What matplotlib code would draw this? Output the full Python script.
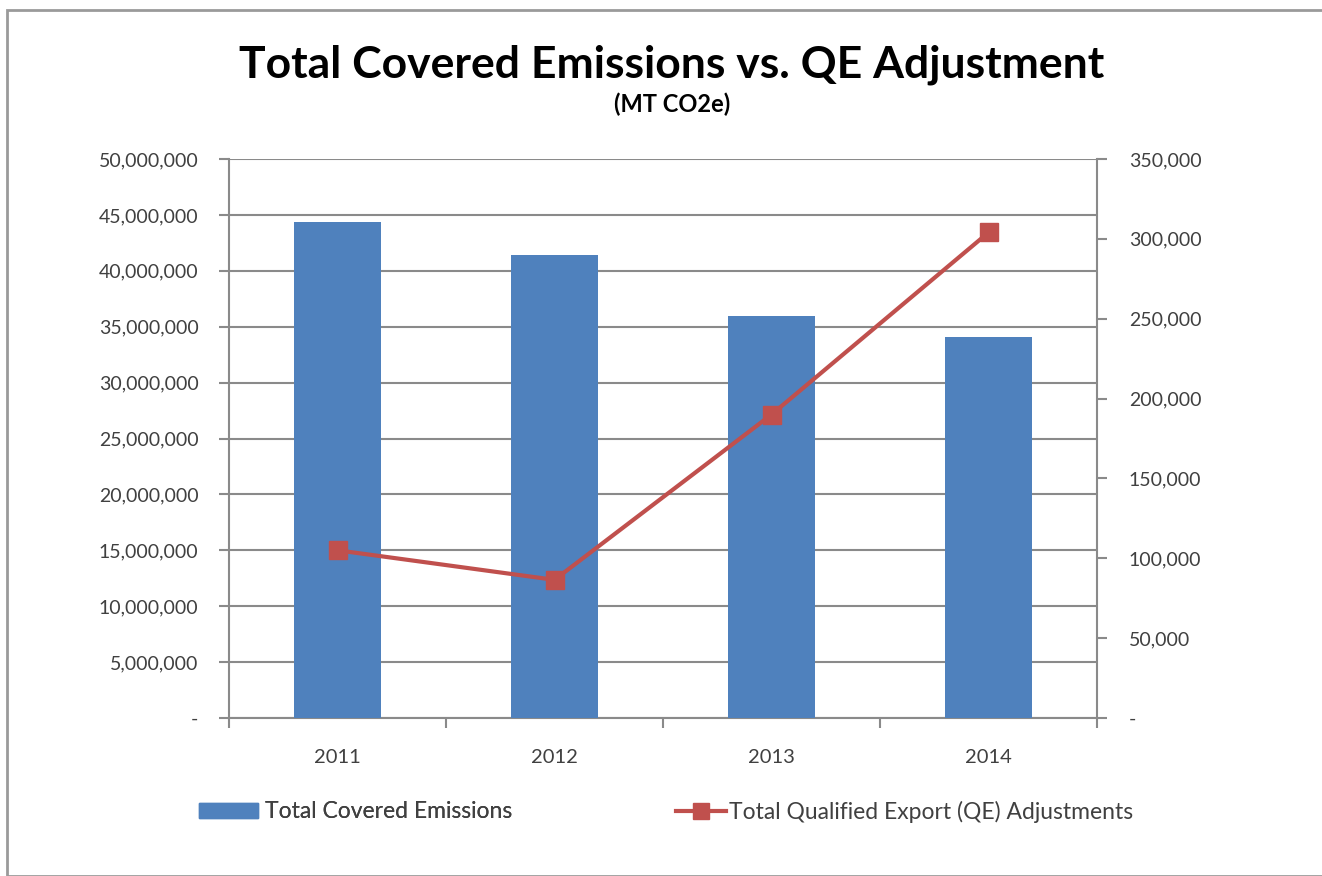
import matplotlib.pyplot as plt
from matplotlib.patches import Rectangle
from matplotlib.lines import Line2D

years = ["2011", "2012", "2013", "2014"]
emissions = [44400000, 41400000, 36000000, 34100000]
qe_adjust = [105000, 86500, 190000, 304000]

left_ticks = list(range(0, 50000001, 5000000))
right_ticks = list(range(0, 350001, 50000))

bar_color = "#4F81BD"
line_color = "#C0504D"
grid_color = "#8A8A8A"
txt_color = "#404040"

plt.rcParams['font.family'] = ['Lato', 'DejaVu Sans']

fig = plt.figure(figsize=(13.22, 8.76), dpi=100)
ax1 = fig.add_axes([229/1322, 1-718/876, (1097-229)/1322, (718-159)/876])

x = list(range(len(years)))
ax1.bar(x, emissions, width=0.4, color=bar_color, zorder=3)
ax1.set_xlim(-0.5, 3.5)
ax1.set_ylim(0, 50000000)
ax1.set_yticks(left_ticks)
ax1.set_yticklabels(["-"] + ["{:,}".format(v) for v in left_ticks[1:]])
ax1.set_xticks(x)
ax1.set_xticklabels(years)
ax1.set_xticks([-0.5, 0.5, 1.5, 2.5, 3.5], minor=True)
ax1.tick_params(axis='x', which='major', length=0, pad=22, labelsize=14.5, labelcolor=txt_color)
ax1.tick_params(axis='x', which='minor', length=7, color=grid_color, width=1.5)
ax1.tick_params(axis='y', length=7, color=grid_color, width=1.5, labelsize=14,
                labelcolor=txt_color, pad=15)
ax1.grid(axis='y', color=grid_color, linewidth=1.5, zorder=0)
for s in ['top', 'right']:
    ax1.spines[s].set_visible(False)
for s in ['left', 'bottom']:
    ax1.spines[s].set_color(grid_color)
    ax1.spines[s].set_linewidth(1.5)

ax2 = ax1.twinx()
ax2.plot(x, qe_adjust, color=line_color, linewidth=3, marker='s', markersize=13, zorder=4)
ax2.set_ylim(0, 350000)
ax2.set_yticks(right_ticks)
ax2.set_yticklabels(["-"] + ["{:,}".format(v) for v in right_ticks[1:]])
ax2.tick_params(axis='y', length=7, color=grid_color, width=1.5, labelsize=14,
                labelcolor=txt_color, pad=16)
for s in ['top', 'left', 'bottom']:
    ax2.spines[s].set_visible(False)
ax2.spines['right'].set_color(grid_color)
ax2.spines['right'].set_linewidth(1.5)

fig.text(672/1322, 1-65/876, "Total Covered Emissions vs. QE Adjustment",
         ha='center', va='center', fontsize=32, fontweight='bold', color='black')
fig.text(672/1322, 1-104/876, "(MT CO2e)", ha='center', va='center',
         fontsize=17, fontweight='bold', color='black')

handles = [Rectangle((0, 0), 1, 1, color=bar_color),
           Line2D([], [], color=line_color, linewidth=3, marker='s', markersize=11)]
leg1 = fig.legend([handles[0]], ["Total Covered Emissions"], loc='center left',
                  bbox_to_anchor=(178/1322, 1-812/876), frameon=False, fontsize=16.5,
                  handlelength=2.6, handleheight=0.6, handletextpad=0.3, labelcolor=txt_color)
fig.legend([handles[1]], ["Total Qualified Export (QE) Adjustments"], loc='center left',
           bbox_to_anchor=(655/1322, 1-812/876), frameon=False, fontsize=16.5,
           handlelength=2.2, handletextpad=0.15, labelcolor=txt_color)
fig.add_artist(leg1)

fig.patches.append(Rectangle((7/1322, 0), 1.0, 1-10/876, transform=fig.transFigure,
                             fill=False, edgecolor="#9A9A9A", linewidth=2))

fig.savefig("out.png", dpi=100)
